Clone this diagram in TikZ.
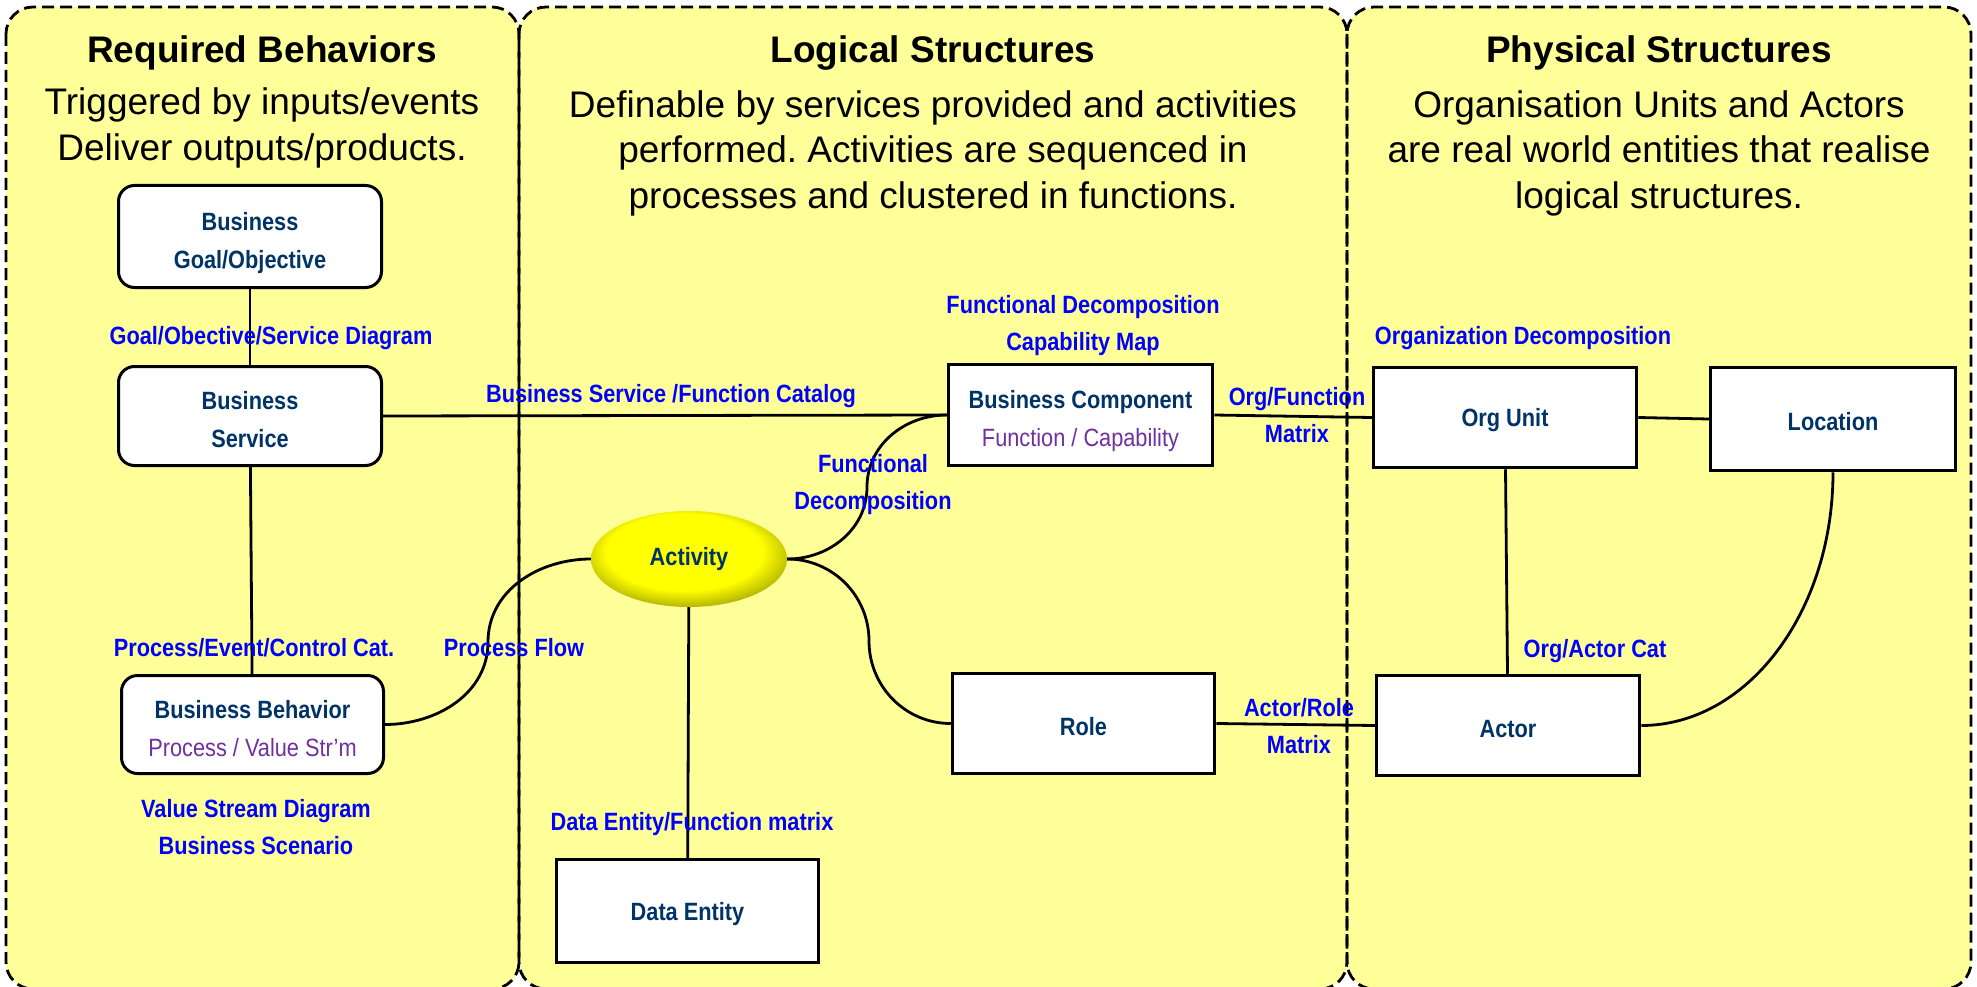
\documentclass[tikz,border=0pt]{standalone}
\usepackage{fontspec}
\setmainfont{Liberation Sans}
\newfontfamily\narrowsans{Liberation Sans}[FakeStretch=0.87]
\usetikzlibrary{shapes.geometric}
\frenchspacing

\definecolor{panelfill}{HTML}{FFFF99}
\definecolor{navy}{RGB}{0,51,102}
\definecolor{linkblue}{RGB}{0,0,255}
\definecolor{subpurple}{RGB}{112,48,160}
\definecolor{actdark}{RGB}{150,150,0}

% yellow ellipse with a darker rim towards the lower right
\pgfdeclareradialshading{activityshade}{\pgfpoint{-2bp}{6bp}}{%
  color(0bp)=(yellow); color(20bp)=(yellow); color(31bp)=(actdark); color(50bp)=(actdark)}

\tikzset{
  panelbg/.style={fill=panelfill, rounded corners=27pt},
  panelrim/.style={draw=black, line width=2.8pt, dash pattern=on 12pt off 6pt, rounded corners=27pt},
  paneltitle/.style={font=\fontsize{37}{45}\selectfont\bfseries, anchor=base, inner sep=0pt},
  paneltext/.style={font=\fontsize{37}{45}\selectfont, anchor=base, inner sep=0pt},
  boxtext/.style={align=center, inner sep=0pt, text=navy,
    font=\narrowsans\bfseries\fontsize{25}{38}\selectfont},
  oneline/.style={execute at begin node={\rule{0pt}{24pt}}},
  softbox/.style={boxtext, draw=black, line width=3pt, fill=white, rounded corners=16pt},
  hardbox/.style={boxtext, draw=black, line width=3.5pt, fill=white},
  activity/.style={ellipse, shade, shading=activityshade, inner sep=0pt,
    minimum width=196pt, minimum height=96pt, text=navy,
    font=\narrowsans\bfseries\fontsize{25}{38}\selectfont},
  linklabel/.style={text=linkblue, align=center, inner sep=0pt,
    font=\narrowsans\bfseries\fontsize{25}{37}\selectfont},
  link/.style={draw=black, line width=2.8pt},
}
\newcommand{\subtext}[1]{{\mdseries\color{subpurple}#1}}
% two centred lines, set a little below the middle of their box
\newcommand{\twoline}[2]{\raisebox{0pt}[\dimexpr\height+10pt\relax][\depth]{\begin{tabular}{@{}c@{}}#1\\#2\end{tabular}}}

\begin{document}
\begin{tikzpicture}[x=1pt,y=1pt]
\useasboundingbox[fill=white] (0,0) rectangle (1977,-987);
\clip (0,0) rectangle (1977,-987);

% three column panels
\path[panelbg] (6,-7) rectangle (519,-989);
\path[panelbg] (519,-7) rectangle (1347,-989);
\path[panelbg] (1347,-7) rectangle (1971,-989);
\path[panelrim] (6,-7) rectangle (519,-989);
\path[panelrim] (519,-7) rectangle (1347,-989);
\path[panelrim] (1347,-7) rectangle (1971,-989);

% panel headings
\node[paneltitle] (t1) at (262,-63) {Required Behaviors};
\node[paneltext] (t1a) at (262,-115) {Triggered by inputs/events};
\node[paneltext] (t1b) at (262,-161) {Deliver outputs/products.};

\node[paneltitle] (t2) at (933,-63) {Logical Structures};
\node[paneltext] (t2a) at (933,-118) {Definable by services provided and activities};
\node[paneltext] (t2b) at (933,-163) {performed. Activities are sequenced in};
\node[paneltext] (t2c) at (933,-208) {processes and clustered in functions.};

\node[paneltitle] (t3) at (1659,-63) {Physical Structures};
\node[paneltext] (t3a) at (1659,-118) {Organisation Units and Actors};
\node[paneltext] (t3b) at (1659,-163) {are real world entities that realise};
\node[paneltext] (t3c) at (1659,-208) {logical structures.};

% elements
\node[softbox, minimum width=263pt, minimum height=102pt] (goal) at (250,-236.5) {\twoline{Business}{Goal/Objective}};
\node[softbox, minimum width=263pt, minimum height=99pt] (svc) at (250,-416) {\twoline{Business}{Service}};
\node[softbox, minimum width=262pt, minimum height=98pt] (beh) at (252.5,-724.5) {\twoline{Business Behavior}{\subtext{Process / Value Str’m}}};
\node[hardbox, minimum width=264pt, minimum height=101pt] (bc) at (1080.5,-415) {\twoline{Business Component}{\subtext{Function / Capability}}};
\node[hardbox, oneline, minimum width=263pt, minimum height=100pt] (ou) at (1505,-417.5) {Org Unit};
\node[hardbox, oneline, minimum width=245pt, minimum height=103pt] (loc) at (1833,-419) {Location};
\node[hardbox, oneline, minimum width=262pt, minimum height=100pt] (role) at (1083.5,-723.5) {Role};
\node[hardbox, oneline, minimum width=263pt, minimum height=100pt] (actor) at (1508,-725.5) {Actor};
\node[hardbox, oneline, minimum width=262pt, minimum height=103pt] (de) at (687.5,-911) {Data Entity};
\node[activity] (act) at (689,-559) {Activity};

% turning points of the curved connectors
\coordinate (pf) at (488,-642);
\coordinate (fdc) at (867,-487);
\coordinate (rlc) at (869,-641);

% connectors
\draw[link] (goal) -- (svc);
\draw[link] (svc) -- (beh);
\draw[link] (svc.east) -- (bc.west);
\draw[link] (beh.east) to[out=0,in=-90] (pf) to[out=90,in=180] (act.west);
\draw[link] (act.east) to[out=0,in=-90] (fdc) to[out=90,in=180] (bc.west);
\draw[link] (act.east) to[out=0,in=90] (rlc) to[out=-90,in=180] (role.west);
\draw[link] (act) -- (de);
\draw[link] (bc.east) -- (ou.west);
\draw[link] (ou.east) -- (loc.west);
\draw[link] (ou) -- (actor);
\draw[link] (role.east) -- (actor.west);
\draw[link] (loc.south) .. controls +(0,-140) and +(106,0) .. (actor.east);

% connector labels
\node[linklabel] (l1) at (271,-338) {Goal/Obective/Service Diagram};
\node[linklabel] (l2) at (254,-648) {Process/Event/Control Cat.};
\node[linklabel] (l3) at (256,-827) {Value Stream Diagram\\Business Scenario};
\node[linklabel] (l4) at (514,-648) {Process Flow};
\node[linklabel] (l5) at (671,-396) {Business Service /Function Catalog};
\node[linklabel] (l6) at (1083,-326) {Functional Decomposition\\Capability Map};
\node[linklabel] (l7) at (873,-485) {Functional\\Decomposition};
\node[linklabel] (l8) at (1297,-415) {Org/Function\\Matrix};
\node[linklabel] (l9) at (1523,-338) {Organization Decomposition};
\node[linklabel] (l10) at (1595,-651) {Org/Actor Cat};
\node[linklabel] (l11) at (1299,-726) {Actor/Role\\Matrix};
\node[linklabel] (l12) at (692,-824) {Data Entity/Function matrix};
\end{tikzpicture}
\end{document}
